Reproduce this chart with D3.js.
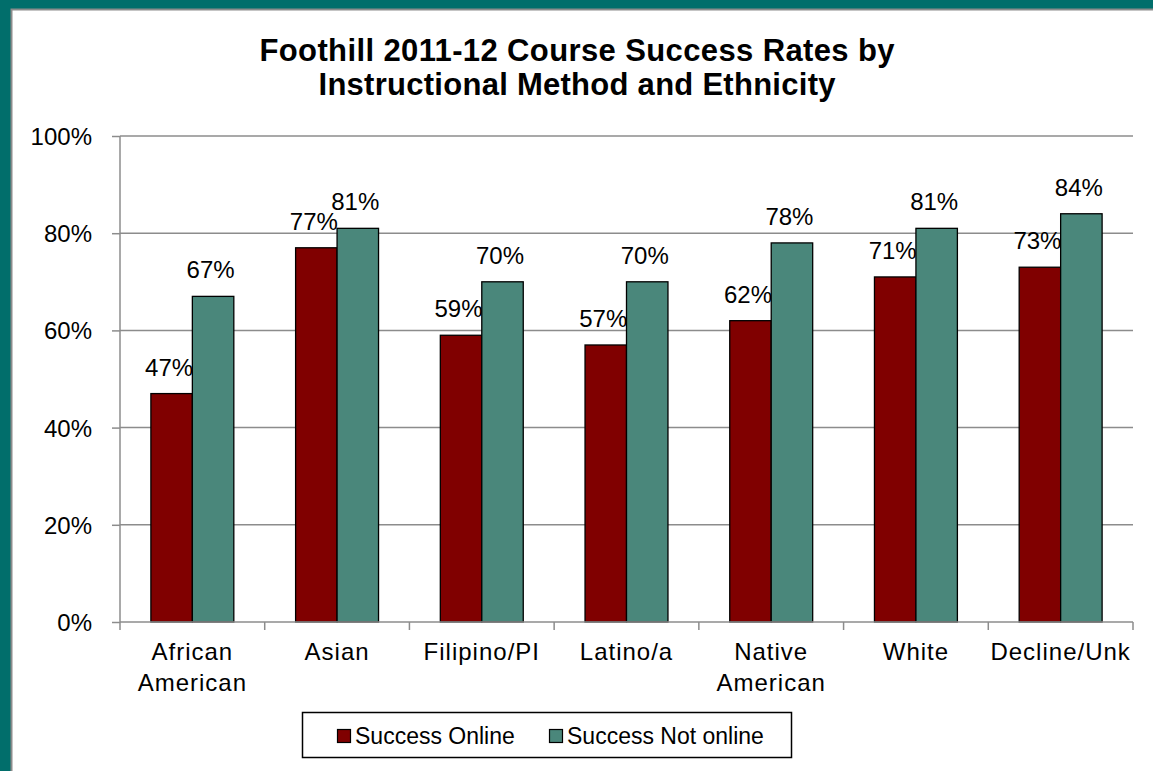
<!DOCTYPE html>
<html><head><meta charset="utf-8">
<script src="https://cdn.jsdelivr.net/npm/d3@7"></script>
<style>body{margin:0;background:#fff}svg{display:block}text{font-family:"Liberation Sans",Arial,sans-serif}</style>
</head><body>
<svg id="c" width="1153" height="771"></svg>
<script>
const categories = [["African","American"],["Asian"],["Filipino/PI"],["Latino/a"],["Native","American"],["White"],["Decline/Unk"]];
const seriesNames = ["Success Online","Success Not online"];
const online = [47,77,59,57,62,71,73];
const notOnline = [67,81,70,70,78,81,84];
const yTicks = [0,20,40,60,80,100];
const colors = ["#800000","#4A877B"];
const titleLines = ["Foothill 2011-12 Course Success Rates by","Instructional Method and Ethnicity"];
const titleWidths = [635,517];

const svg = d3.select("#c");
svg.append("rect").attr("x",0).attr("y",0).attr("width",1153).attr("height",771).attr("fill","#016E6B");
svg.append("rect").attr("x",11.5).attr("y",9.5).attr("width",1150).attr("height",770).attr("fill","#fff").attr("stroke","#8c8c8c").attr("stroke-width",2);

const L=120,R=1133,T=136,B=622;
const x = d3.scaleBand().domain(d3.range(categories.length)).range([L,R]);
const xs = d3.scaleBand().domain([0,1]).range([0,x.bandwidth()]).paddingOuter(0.745).paddingInner(0);
const y = d3.scaleLinear().domain([0,100]).range([B,T]);

svg.append("g").selectAll("line").data(yTicks.filter(d=>d>0)).join("line")
 .attr("x1",L).attr("x2",R).attr("y1",d=>y(d)).attr("y2",d=>y(d)).attr("stroke","#8c8c8c").attr("stroke-width",1.5);

const ya = svg.append("g").attr("transform",`translate(${L},0)`).call(d3.axisLeft(y).tickValues(yTicks).tickSize(8).tickPadding(20).tickFormat(d=>d+"%"));
ya.select(".domain").attr("stroke","#8c8c8c").attr("stroke-width",1.5).attr("d",`M0,${T}V${B}`);
ya.selectAll(".tick line").attr("stroke","#8c8c8c").attr("stroke-width",1.5);
ya.selectAll(".tick text").attr("font-size",24).attr("fill","#000").attr("font-family","Liberation Sans, Arial, sans-serif").attr("dy","0.35em");

const series = [online, notOnline];
series.forEach((vals,si)=>{
  const g = svg.append("g");
  g.selectAll("rect").data(vals).join("rect")
   .attr("x",(d,i)=>x(i)+xs(si)).attr("width",xs.bandwidth())
   .attr("y",d=>y(d)).attr("height",d=>B-y(d))
   .attr("fill",colors[si]).attr("stroke","#000").attr("stroke-width",1.3);
  g.selectAll("text").data(vals).join("text")
   .attr("x",(d,i)=>x(i)+xs(si)+xs.bandwidth()/2 - 2.5).attr("y",d=>y(d)-18)
   .attr("text-anchor","middle").attr("font-size",24).text(d=>d+"%");
});

svg.append("line").attr("x1",L).attr("x2",R).attr("y1",B).attr("y2",B).attr("stroke","#8c8c8c").attr("stroke-width",1.5);
svg.append("g").selectAll("line").data(d3.range(categories.length+1)).join("line")
 .attr("x1",i=>L+i*x.step()).attr("x2",i=>L+i*x.step()).attr("y1",B).attr("y2",B+8).attr("stroke","#8c8c8c").attr("stroke-width",1.5);
const xl = svg.append("g").selectAll("text").data(categories).join("text")
 .attr("x",(d,i)=>x(i)+x.bandwidth()/2).attr("y",660).attr("text-anchor","middle").attr("font-size",24).attr("letter-spacing","1px");
xl.each(function(d){ d3.select(this).selectAll("tspan").data(d).join("tspan").attr("x",d3.select(this).attr("x")).attr("dy",(t,j)=>j?31:0).text(t=>t); });

svg.append("g").selectAll("text").data(titleLines).join("text")
 .attr("x",577).attr("y",(d,i)=>61+i*34).attr("text-anchor","middle").attr("font-size",31).attr("font-weight","bold")
 .attr("textLength",(d,i)=>titleWidths[i]).attr("lengthAdjust","spacing").text(d=>d);

svg.append("rect").attr("x",302.5).attr("y",712.5).attr("width",489).attr("height",45).attr("fill","#fff").attr("stroke","#000").attr("stroke-width",1.5);
const lx=[337,549];
seriesNames.forEach((n,i)=>{
  svg.append("rect").attr("x",lx[i]+0.5).attr("y",729.5).attr("width",13).attr("height",13).attr("fill",colors[i]).attr("stroke","#000").attr("stroke-width",1.2);
  svg.append("text").attr("x",lx[i]+18).attr("y",744).attr("font-size",23).text(n);
});
</script>
</body></html>
